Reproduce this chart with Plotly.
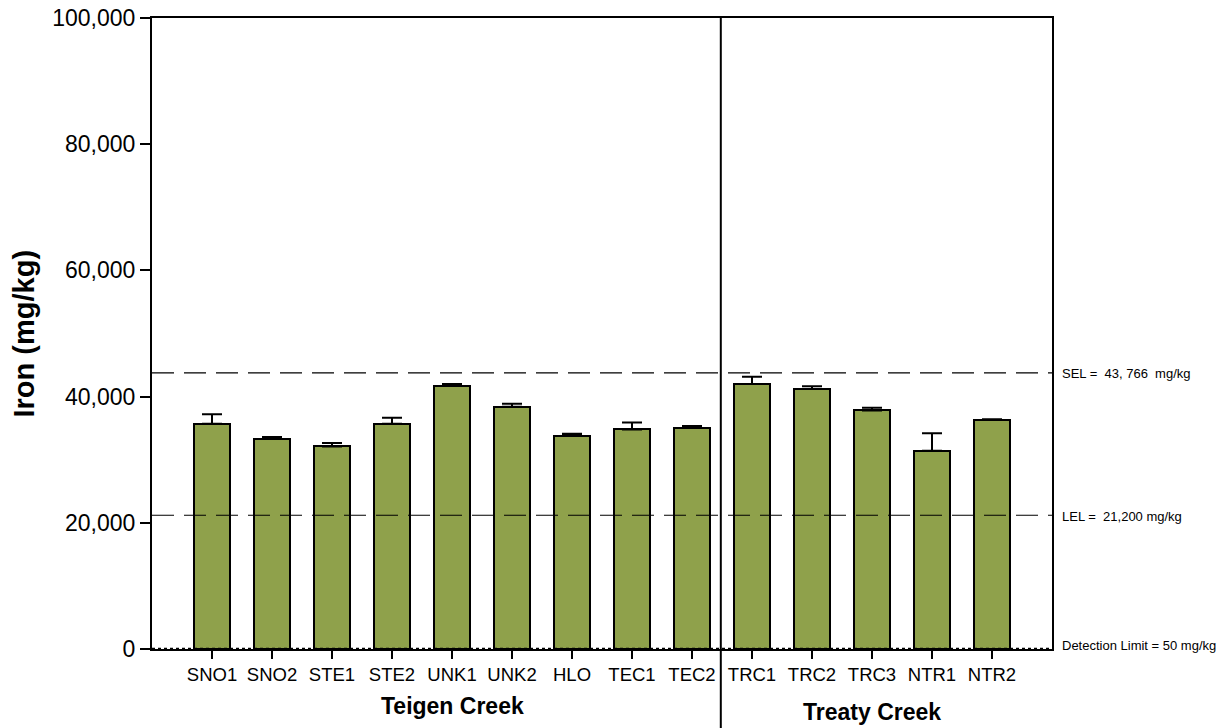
import plotly.graph_objects as go

# Sediment iron concentrations (mean and upper error) by sampling site
teigen_sites = ["SNO1", "SNO2", "STE1", "STE2", "UNK1", "UNK2", "HLO", "TEC1", "TEC2"]
treaty_sites = ["TRC1", "TRC2", "TRC3", "NTR1", "NTR2"]
iron_mean = [35700, 33300, 32100, 35700, 41700, 38400, 33800, 34800, 35100,
             42000, 41200, 37800, 31400, 36300]
iron_err = [1500, 300, 550, 950, 300, 450, 300, 1100, 250,
            1150, 450, 450, 2800, 100]

# Sediment quality guidelines
sel_value = 43766
lel_value = 21200
detection_limit = 50
y_ticks = [0, 20000, 40000, 60000, 80000, 100000]

sites = teigen_sites + treaty_sites
x_pos = list(range(len(sites)))
divider_x = len(teigen_sites) - 0.52

REG = "Liberation Sans, Arial, sans-serif"

fig = go.Figure()
fig.add_trace(go.Bar(
    x=x_pos,
    y=iron_mean,
    width=0.6,
    marker=dict(color="#8FA14B", line=dict(color="black", width=2)),
    error_y=dict(type="data", symmetric=False, array=iron_err,
                 arrayminus=[0] * len(iron_err),
                 color="black", thickness=2, width=10),
    showlegend=False,
))

x0, x1 = -1, len(sites)

# Guideline lines
for val in (sel_value, lel_value):
    fig.add_shape(type="line", xref="x", yref="y", x0=x0, x1=x1, y0=val, y1=val,
                  line=dict(color="black", width=1.2, dash="22px,10px"))
fig.add_shape(type="line", xref="x", yref="y", x0=x0, x1=x1,
              y0=detection_limit, y1=detection_limit,
              line=dict(color="black", width=2, dash="dot"))

# Divider between creeks
fig.add_shape(type="line", xref="x", yref="paper", x0=divider_x, x1=divider_x,
              y0=-0.13, y1=1, line=dict(color="black", width=2))

# Right-hand guideline labels
for val, txt, ys in [(sel_value, "SEL =  43, 766  mg/kg", -1),
                     (lel_value, "LEL =  21,200 mg/kg", -1),
                     (detection_limit, "Detection Limit = 50 mg/kg", 3)]:
    fig.add_annotation(x=1, xref="paper", y=val, yref="y", text=txt,
                       showarrow=False, xanchor="left", yanchor="middle",
                       xshift=8, yshift=ys,
                       font=dict(family=REG, size=13, color="black"))

# Group labels
fig.add_annotation(x=(len(teigen_sites) - 1) / 2, xref="x", y=0, yref="paper",
                   text="<b>Teigen Creek</b>", showarrow=False,
                   xanchor="center", yanchor="middle", yshift=-57,
                   font=dict(family=REG, size=23, color="black"))
fig.add_annotation(x=len(teigen_sites) + (len(treaty_sites) - 1) / 2, xref="x",
                   y=0, yref="paper", text="<b>Treaty Creek</b>", showarrow=False,
                   xanchor="center", yanchor="middle", yshift=-63,
                   font=dict(family=REG, size=23, color="black"))

# Y-axis title
fig.add_annotation(x=0, xref="paper", y=0.5, yref="paper",
                   text="<b>Iron (mg/kg)</b>", showarrow=False, textangle=-90,
                   xanchor="center", yanchor="middle", xshift=-129,
                   font=dict(family=REG, size=29, color="black"))

fig.update_layout(
    width=1228, height=728,
    margin=dict(l=152, r=176, t=18, b=79, autoexpand=False),
    paper_bgcolor="white", plot_bgcolor="white",
    bargap=0,
    xaxis=dict(
        range=[x0, x1], tickmode="array", tickvals=x_pos, ticktext=sites,
        tickangle=0, automargin=False,
        ticks="outside", ticklen=8, tickwidth=2, tickcolor="black",
        showline=True, linecolor="black", linewidth=2, mirror=True,
        showgrid=False, zeroline=False,
        tickfont=dict(family=REG, size=18.5, color="black"),
    ),
    yaxis=dict(
        range=[0, 100000], tickmode="array", tickvals=y_ticks,
        tickformat=",", ticks="outside", ticklen=10, tickwidth=2,
        tickcolor="black", showline=True, linecolor="black", linewidth=2,
        mirror=True, showgrid=False, zeroline=False, automargin=False,
        tickfont=dict(family=REG, size=23, color="black"),
    ),
)

fig.write_html("out.html")
